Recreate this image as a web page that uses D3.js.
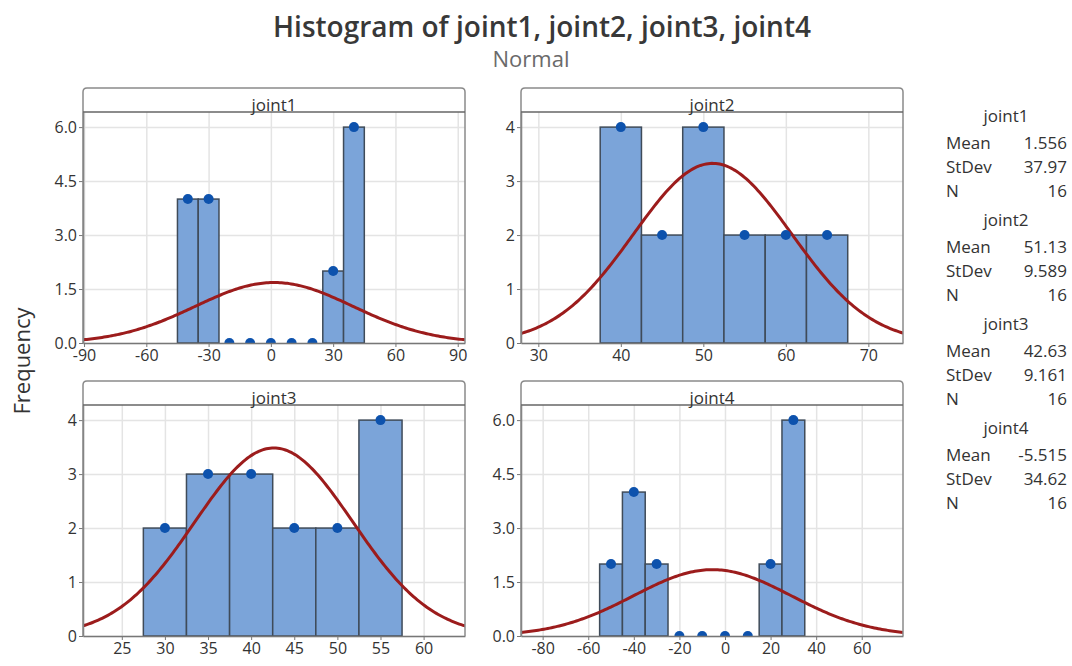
<!DOCTYPE html>
<html>
<head>
<meta charset="utf-8">
<script src="https://cdn.jsdelivr.net/npm/d3@7"></script>
<style>
  body { margin: 0; background: #fff; }
  text { font-family: "Open Sans", "Noto Sans", sans-serif; fill: #333; }
</style>
</head>
<body>
<div id="chart"></div>
<script>
// histogram data (bin midpoints + frequency)
const names = ["joint1", "joint2", "joint3", "joint4"];
const joint1Mids = [-40, -30, -20, -10, 0, 10, 20, 30, 40];
const joint1Freq = [4, 4, 0, 0, 0, 0, 0, 2, 6];
const joint2Mids = [40, 45, 50, 55, 60, 65];
const joint2Freq = [4, 2, 4, 2, 2, 2];
const joint3Mids = [30, 35, 40, 45, 50, 55];
const joint3Freq = [2, 3, 3, 2, 2, 4];
const joint4Mids = [-50, -40, -30, -20, -10, 0, 10, 20, 30];
const joint4Freq = [2, 4, 2, 0, 0, 0, 0, 2, 6];
const binWidths = [10, 5, 5, 10];

// fitted normal summary
const means = [1.556, 51.13, 42.63, -5.515];
const stdevs = [37.97, 9.589, 9.161, 34.62];
const counts = [16, 16, 16, 16];

// axis settings
const xDomains = [[-90.5, 93.5], [27.9, 74.2], [20.5, 64.8], [-89.5, 78.1]];
const xTicks = [
    [-90, -60, -30, 0, 30, 60, 90],
    [30, 40, 50, 60, 70],
    [25, 30, 35, 40, 45, 50, 55, 60],
    [-80, -60, -40, -20, 0, 20, 40, 60]
];
const yTicks = [
    [0, 1.5, 3, 4.5, 6],
    [0, 1, 2, 3, 4],
    [0, 1, 2, 3, 4],
    [0, 1.5, 3, 4.5, 6]
];
const yDecimals = [1, 0, 0, 1];

const mids = [joint1Mids, joint2Mids, joint3Mids, joint4Mids];
const freqs = [joint1Freq, joint2Freq, joint3Freq, joint4Freq];

// layout
const W = 1072, H = 666;
const panelW = 382, plotH = 231, headerH = 24;
const colLeft = [83, 521], rowTop = [88, 381];

const svg = d3.select("#chart")
    .append("svg")
    .attr("width", W)
    .attr("height", H);

// title
svg.append("text")
    .attr("x", 542).attr("y", 37)
    .attr("text-anchor", "middle")
    .style("font-size", "28px")
    .style("font-weight", 600)
    .style("fill", "#383838")
    .text("Histogram of joint1, joint2, joint3, joint4");

svg.append("text")
    .attr("x", 531).attr("y", 67)
    .attr("text-anchor", "middle")
    .style("font-size", "22px")
    .style("fill", "#6a6a6a")
    .text("Normal");

svg.append("text")
    .attr("transform", "translate(30, 361) rotate(-90)")
    .attr("text-anchor", "middle")
    .style("font-size", "22px")
    .text("Frequency");

names.forEach((name, i) => {
    const left = colLeft[i % 2];
    const top = rowTop[Math.floor(i / 2)];
    const g = svg.append("g")
        .attr("transform", `translate(${left}, ${top + headerH})`);

    const yMax = d3.max(yTicks[i]) * 1.07;
    const x = d3.scaleLinear().domain(xDomains[i]).range([0, panelW]);
    const y = d3.scaleLinear().domain([0, yMax]).range([plotH, 0]);

    // gridlines
    g.append("g")
        .attr("transform", `translate(0, ${plotH})`)
        .call(d3.axisBottom(x).tickValues(xTicks[i]).tickSize(-plotH).tickFormat(""))
        .call(a => a.select(".domain").remove())
        .selectAll("line").attr("stroke", "#e4e4e4").attr("stroke-width", 1.5);
    g.append("g")
        .call(d3.axisLeft(y).tickValues(yTicks[i]).tickSize(-panelW).tickFormat(""))
        .call(a => a.select(".domain").remove())
        .selectAll("line").attr("stroke", "#e4e4e4").attr("stroke-width", 1.5);

    const clipId = "clip" + i;
    g.append("clipPath").attr("id", clipId)
        .append("rect").attr("width", panelW).attr("height", plotH);

    const plot = g.append("g").attr("clip-path", `url(#${clipId})`);
    const bins = mids[i].map((m, k) => ({ mid: m, n: freqs[i][k] }));
    const bw = binWidths[i];

    plot.selectAll("rect.bar")
        .data(bins.filter(d => d.n > 0))
        .join("rect")
        .attr("class", "bar")
        .attr("x", d => x(d.mid - bw / 2))
        .attr("y", d => y(d.n))
        .attr("width", d => x(d.mid + bw / 2) - x(d.mid - bw / 2))
        .attr("height", d => plotH - y(d.n))
        .attr("fill", "#7ba4d9")
        .attr("stroke", "#3f4b59")
        .attr("stroke-width", 1.5);

    // fitted normal curve scaled to frequency
    const mu = means[i], sd = stdevs[i];
    const scale = counts[i] * bw / (sd * Math.sqrt(2 * Math.PI));
    const xs = d3.range(xDomains[i][0], xDomains[i][1] + 0.5, (xDomains[i][1] - xDomains[i][0]) / 200);
    const line = d3.line()
        .x(v => x(v))
        .y(v => y(scale * Math.exp(-0.5 * ((v - mu) / sd) ** 2)));
    plot.append("path")
        .datum(xs)
        .attr("d", line)
        .attr("fill", "none")
        .attr("stroke", "#9c1c1c")
        .attr("stroke-width", 3);

    plot.selectAll("circle")
        .data(bins)
        .join("circle")
        .attr("cx", d => x(d.mid))
        .attr("cy", d => y(d.n))
        .attr("r", 5)
        .attr("fill", "#0d52ad");

    // axes (plain hyphen for negatives, like the original)
    const xAxis = g.append("g")
        .attr("transform", `translate(0, ${plotH})`)
        .call(d3.axisBottom(x).tickValues(xTicks[i]).tickFormat(d => String(d))
            .tickSize(4).tickSizeOuter(0).tickPadding(3));
    const yAxis = g.append("g")
        .call(d3.axisLeft(y).tickValues(yTicks[i]).tickFormat(d => d.toFixed(yDecimals[i]))
            .tickSize(4).tickSizeOuter(0).tickPadding(2));
    [xAxis, yAxis].forEach(a => {
        a.select(".domain").attr("stroke", "#777").attr("stroke-width", 1.5);
        a.selectAll(".tick line").attr("stroke", "#777");
        a.selectAll(".tick text")
            .style("font-size", "16px")
            .style("font-family", "'Open Sans', 'Noto Sans', sans-serif")
            .attr("fill", "#2b2b2b");
    });

    // panel frame with header strip
    const r = 4;
    g.append("path")
        .attr("d", `M0,${plotH} V${-headerH + r} Q0,${-headerH} ${r},${-headerH} H${panelW - r} Q${panelW},${-headerH} ${panelW},${-headerH + r} V${plotH}`)
        .attr("fill", "none")
        .attr("stroke", "#8a8a8a")
        .attr("stroke-width", 1.5);
    g.append("line")
        .attr("x1", 0).attr("x2", panelW)
        .attr("y1", 0).attr("y2", 0)
        .attr("stroke", "#666")
        .attr("stroke-width", 1.5);
    g.append("text")
        .attr("x", panelW / 2).attr("y", -1)
        .attr("text-anchor", "middle")
        .style("font-size", "17px")
        .text(name);
});

// summary table on the right
const stat = svg.append("g");
names.forEach((name, i) => {
    const y0 = 122 + i * 104;
    stat.append("text")
        .attr("x", 1006).attr("y", y0)
        .attr("text-anchor", "middle")
        .style("font-size", "17px")
        .text(name);
    const rows = [["Mean", String(means[i])], ["StDev", String(stdevs[i])], ["N", String(counts[i])]];
    rows.forEach((row, k) => {
        const yy = y0 + 27 + k * 24;
        stat.append("text")
            .attr("x", 946).attr("y", yy)
            .style("font-size", "17px")
            .text(row[0]);
        stat.append("text")
            .attr("x", 1067).attr("y", yy)
            .attr("text-anchor", "end")
            .style("font-size", "17px")
            .text(row[1]);
    });
});
</script>
</body>
</html>
